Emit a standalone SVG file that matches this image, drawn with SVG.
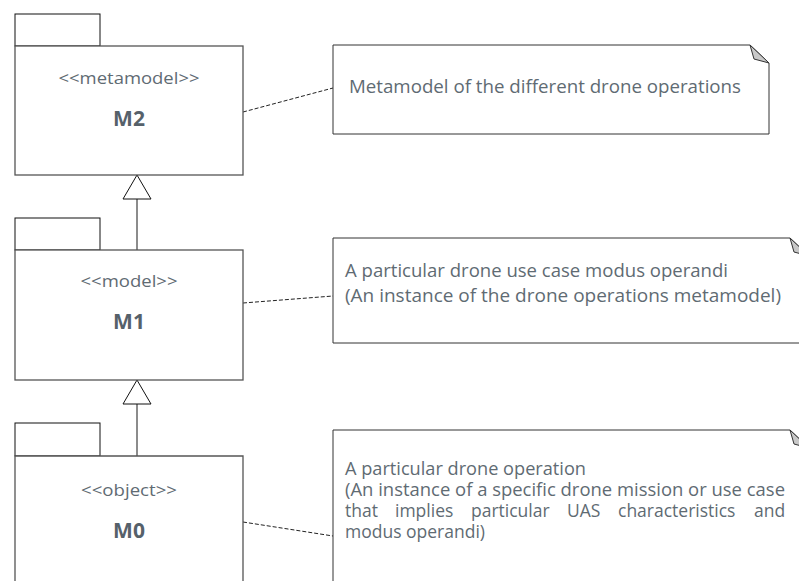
<svg xmlns="http://www.w3.org/2000/svg" width="799" height="581" viewBox="0 0 799 581">
<style>
.bg{fill:#ffffff}
.tab{fill:#ffffff;stroke:#111;stroke-width:1}
.body{fill:#ffffff;stroke:#555;stroke-width:1.3}
.note{fill:#ffffff;stroke:#333;stroke-width:1}
.fold{fill:#c8c8c8;stroke:#333;stroke-width:1}
.st{font-family:"Open Sans","Liberation Sans",sans-serif;font-size:17px;fill:#5f6b73;text-anchor:middle}
.nm{font-family:"Open Sans","Liberation Sans",sans-serif;font-size:21px;font-weight:bold;fill:#56616a;text-anchor:middle}
.tx{font-family:"Open Sans","Liberation Sans",sans-serif;font-size:17.5px;fill:#5f6b73}
.dash{fill:none;stroke:#222;stroke-width:1;stroke-dasharray:4,2}
.gen{fill:none;stroke:#666;stroke-width:1.5}
.tri{fill:#ffffff;stroke:#111;stroke-width:1}
</style>
<rect class="bg" x="0" y="0" width="799" height="581"/>
<g id="connectors">
<path class="dash" d="M243,112 L333,88"/>
<path class="dash" d="M243,303 L333,296"/>
<path class="dash" d="M243,522 L333,536"/>
<path class="gen" d="M137,199 L137,250"/>
<path class="tri" d="M137,175 L151,199 L123,199 Z"/>
<path class="gen" d="M137,404 L137,456"/>
<path class="tri" d="M137,380 L151,404 L123,404 Z"/>
</g>
<g id="M2">
<rect class="tab" x="15" y="14" width="85" height="32"/>
<rect class="body" x="15" y="46" width="228" height="129"/>
<text class="st" x="129" y="84" textLength="141" lengthAdjust="spacingAndGlyphs">&lt;&lt;metamodel&gt;&gt;</text>
<text class="nm" x="129" y="126">M2</text>
</g>
<g id="M1">
<rect class="tab" x="15" y="218" width="85" height="32"/>
<rect class="body" x="15" y="250" width="228" height="130"/>
<text class="st" x="129" y="287" textLength="97" lengthAdjust="spacingAndGlyphs">&lt;&lt;model&gt;&gt;</text>
<text class="nm" x="129" y="329">M1</text>
</g>
<g id="M0">
<rect class="tab" x="15" y="423" width="85" height="33"/>
<path class="body" d="M15,590 L15,456 L243,456 L243,590"/>
<text class="st" x="129" y="496" textLength="96" lengthAdjust="spacingAndGlyphs">&lt;&lt;object&gt;&gt;</text>
<text class="nm" x="129" y="538">M0</text>
</g>
<g id="note-M2">
<path class="note" d="M333,45 L750,45 L769,63 L769,134 L333,134 Z"/>
<path class="fold" d="M750,45 L754,59 L769,63 Z"/>
<text class="tx" x="349" y="93" textLength="392" lengthAdjust="spacingAndGlyphs">Metamodel of the different drone operations</text>
</g>
<g id="note-M1">
<path class="note" d="M333,238 L790,238 L809,256 L809,343 L333,343 Z"/>
<path class="fold" d="M790,238 L794,252 L809,256 Z"/>
<text class="tx" x="345" y="277" textLength="383" lengthAdjust="spacingAndGlyphs">A particular drone use case modus operandi</text>
<text class="tx" x="345" y="302" textLength="436" lengthAdjust="spacingAndGlyphs">(An instance of the drone operations metamodel)</text>
</g>
<g id="note-M0">
<path class="note" d="M333,590 L333,430 L790,430 L809,448 L809,590"/>
<path class="fold" d="M790,430 L794,444 L809,448 Z"/>
<text class="tx" x="345" y="475" textLength="241" lengthAdjust="spacingAndGlyphs">A particular drone operation</text>
<text class="tx" x="345" y="496" textLength="440" lengthAdjust="spacingAndGlyphs">(An instance of a specific drone mission or use case</text>
<text class="tx" y="517"><tspan x="345">that</tspan><tspan x="395">implies</tspan><tspan x="471">particular</tspan><tspan x="567">UAS</tspan><tspan x="618">characteristics</tspan><tspan x="754">and</tspan></text>
<text class="tx" x="345" y="538">modus operandi)</text>
</g>
</svg>
